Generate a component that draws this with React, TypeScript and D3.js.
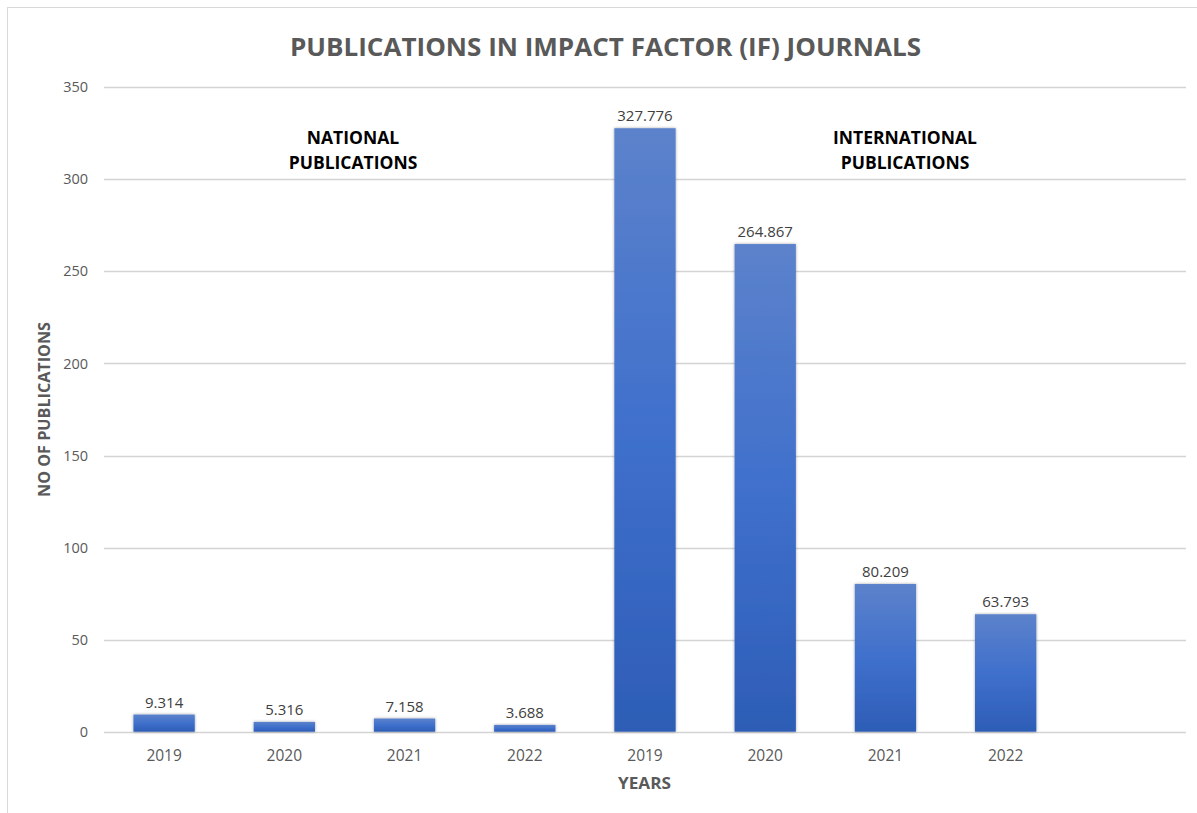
import React, { useEffect, useRef } from 'react';
import * as d3 from 'd3';

const years = ['2019', '2020', '2021', '2022', '2019', '2020', '2021', '2022'];
const values = [9.314, 5.316, 7.158, 3.688, 327.776, 264.867, 80.209, 63.793];
const yTicks = [0, 50, 100, 150, 200, 250, 300, 350];
const slotCount = 9; // one empty slot on the right, like the original

const FONT = "'Open Sans', 'DejaVu Sans', sans-serif";

const App: React.FC = () => {
  const svgRef = useRef<SVGSVGElement>(null);

  useEffect(() => {
    if (!svgRef.current) return;
    const width = 1197;
    const height = 813;
    const plot = { left: 104, right: 1186, top: 87.3, bottom: 731.7 };

    const svg = d3.select(svgRef.current);
    svg.selectAll('*').remove();
    svg.attr('width', width).attr('height', height);

    const defs = svg.append('defs');
    const grad = defs
      .append('linearGradient')
      .attr('id', 'barGrad')
      .attr('x1', 0)
      .attr('y1', 0)
      .attr('x2', 0)
      .attr('y2', 1);
    grad.append('stop').attr('offset', '0%').attr('stop-color', '#5c82cb');
    grad.append('stop').attr('offset', '50%').attr('stop-color', '#3f70cc');
    grad.append('stop').attr('offset', '100%').attr('stop-color', '#2d5db6');

    const shadow = defs
      .append('filter')
      .attr('id', 'barShadow')
      .attr('x', '-20%')
      .attr('y', '-20%')
      .attr('width', '140%')
      .attr('height', '140%');
    shadow
      .append('feDropShadow')
      .attr('dx', 0)
      .attr('dy', 0)
      .attr('stdDeviation', 1.6)
      .attr('flood-color', '#000')
      .attr('flood-opacity', 0.35);

    // chart frame
    svg
      .append('rect')
      .attr('x', 7.5)
      .attr('y', 7.5)
      .attr('width', 1200)
      .attr('height', 820)
      .attr('fill', '#fff')
      .attr('stroke', '#d9d9d9')
      .attr('stroke-width', 1);

    const x = d3
      .scaleBand<number>()
      .domain(d3.range(slotCount))
      .range([plot.left, plot.right])
      .paddingInner(0.49)
      .paddingOuter(0.245);

    const y = d3.scaleLinear().domain([0, 350]).range([plot.bottom, plot.top]);

    // Grid lines
    svg
      .append('g')
      .selectAll('line')
      .data(yTicks)
      .join('line')
      .attr('x1', plot.left)
      .attr('x2', plot.right)
      .attr('y1', (d) => Math.round(y(d)) + 0.5)
      .attr('y2', (d) => Math.round(y(d)) + 0.5)
      .attr('stroke', '#d4d4d4')
      .attr('stroke-width', 1.3);

    // Y tick labels
    svg
      .append('g')
      .selectAll('text')
      .data(yTicks)
      .join('text')
      .attr('x', 88)
      .attr('y', (d) => y(d))
      .attr('dy', '0.35em')
      .attr('text-anchor', 'end')
      .attr('fill', '#595959')
      .attr('font-family', FONT)
      .attr('font-size', '14.5px')
      .text((d) => d);

    // Bars
    const idx = d3.range(values.length);
    svg
      .append('g')
      .selectAll('rect')
      .data(idx)
      .join('rect')
      .attr('x', (i) => x(i)!)
      .attr('y', (i) => y(values[i]))
      .attr('width', x.bandwidth())
      .attr('height', (i) => y(0) - y(values[i]))
      .attr('fill', 'url(#barGrad)')
      .attr('filter', 'url(#barShadow)');

    // Value labels
    svg
      .append('g')
      .selectAll('text')
      .data(idx)
      .join('text')
      .attr('x', (i) => x(i)! + x.bandwidth() / 2)
      .attr('y', (i) => y(values[i]) - 7)
      .attr('text-anchor', 'middle')
      .attr('fill', '#404040')
      .attr('font-family', FONT)
      .attr('font-size', '15px')
      .text((i) => values[i].toFixed(3));

    // X tick labels
    svg
      .append('g')
      .selectAll('text')
      .data(idx)
      .join('text')
      .attr('x', (i) => x(i)! + x.bandwidth() / 2)
      .attr('y', 761)
      .attr('text-anchor', 'middle')
      .attr('fill', '#595959')
      .attr('font-family', FONT)
      .attr('font-size', '15.5px')
      .text((i) => years[i]);

    // Title
    svg
      .append('text')
      .attr('x', 605.5)
      .attr('y', 56)
      .attr('text-anchor', 'middle')
      .attr('fill', '#595959')
      .attr('font-family', FONT)
      .attr('font-weight', 700)
      .attr('font-size', '25px')
      .attr('textLength', 631)
      .attr('lengthAdjust', 'spacingAndGlyphs')
      .text('PUBLICATIONS IN IMPACT FACTOR (IF) JOURNALS');

    // Axis titles
    svg
      .append('text')
      .attr('transform', 'translate(50,409.5) rotate(-90)')
      .attr('text-anchor', 'middle')
      .attr('fill', '#595959')
      .attr('font-family', FONT)
      .attr('font-weight', 700)
      .attr('font-size', '16px')
      .attr('textLength', 175)
      .attr('lengthAdjust', 'spacingAndGlyphs')
      .text('NO OF PUBLICATIONS');

    svg
      .append('text')
      .attr('x', 644.5)
      .attr('y', 789)
      .attr('text-anchor', 'middle')
      .attr('fill', '#595959')
      .attr('font-family', FONT)
      .attr('font-weight', 700)
      .attr('font-size', '16px')
      .attr('textLength', 53)
      .attr('lengthAdjust', 'spacingAndGlyphs')
      .text('YEARS');

    // Group annotations
    const notes = [
      { cx: 353, lines: ['NATIONAL', 'PUBLICATIONS'] },
      { cx: 905, lines: ['INTERNATIONAL', 'PUBLICATIONS'] },
    ];
    notes.forEach((n) => {
      n.lines.forEach((line, k) => {
        svg
          .append('text')
          .attr('x', n.cx)
          .attr('y', 144 + k * 25)
          .attr('text-anchor', 'middle')
          .attr('fill', '#000')
          .attr('font-family', FONT)
          .attr('font-weight', 700)
          .attr('font-size', '17.5px')
          .text(line);
      });
    });
  }, []);

  return <svg ref={svgRef} style={{ position: 'absolute', left: 0, top: 0, display: 'block' }} />;
};

export default App;
